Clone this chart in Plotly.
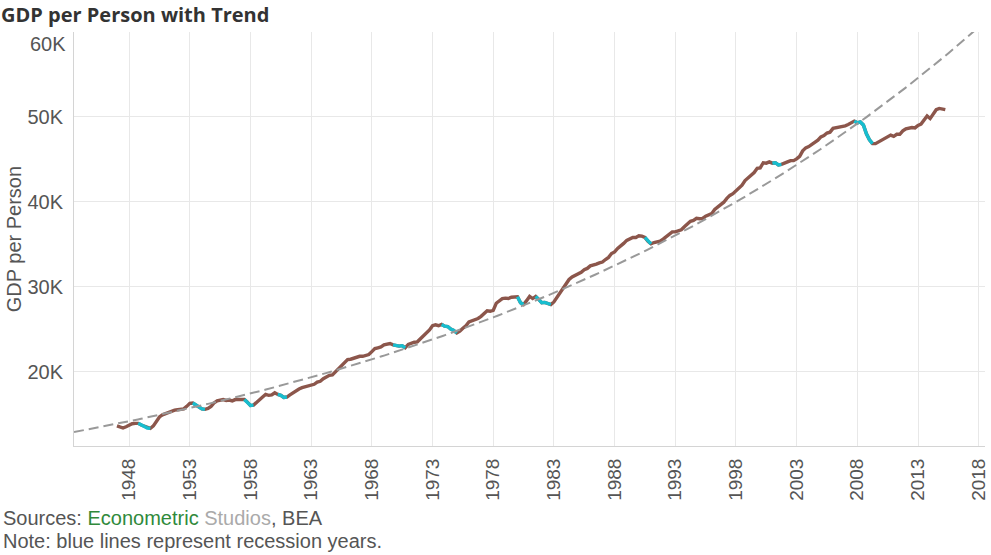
import numpy as np
import plotly.graph_objects as go

# ---------------- data ----------------
years = list(range(1947, 2016))
# quarterly GDP per person (thousands), Q1..Q4 per year
gdp_k = [
    [13.6, 13.45, 13.35, 13.5],    # 1947
    [13.7, 13.85, 13.9, 13.9],     # 1948
    [13.7, 13.55, 13.35, 13.3],    # 1949
    [13.6, 14.1, 14.65, 14.9],     # 1950
    [15.05, 15.25, 15.4, 15.45],   # 1951
    [15.5, 15.55, 15.6, 15.9],     # 1952
    [16.25, 16.3, 16.1, 15.85],    # 1953
    [15.6, 15.55, 15.65, 15.9],    # 1954
    [16.3, 16.55, 16.65, 16.7],    # 1955
    [16.6, 16.65, 16.55, 16.7],    # 1956
    [16.7, 16.65, 16.7, 16.4],     # 1957
    [16.0, 16.05, 16.4, 16.75],    # 1958
    [17.0, 17.3, 17.2, 17.25],     # 1959
    [17.5, 17.3, 17.2, 16.95],     # 1960
    [17.0, 17.25, 17.5, 17.75],    # 1961
    [17.95, 18.1, 18.2, 18.2],     # 1962
    [18.35, 18.5, 18.75, 18.85],   # 1963
    [19.15, 19.35, 19.55, 19.6],   # 1964
    [19.95, 20.3, 20.6, 21.0],     # 1965
    [21.4, 21.45, 21.6, 21.7],     # 1966
    [21.8, 21.8, 21.9, 22.0],      # 1967
    [22.35, 22.7, 22.8, 22.9],     # 1968
    [23.15, 23.2, 23.3, 23.15],    # 1969
    [23.05, 23.0, 23.05, 22.8],    # 1970
    [23.2, 23.35, 23.45, 23.5],    # 1971
    [23.85, 24.3, 24.55, 24.9],    # 1972
    [25.4, 25.5, 25.4, 25.55],     # 1973
    [25.35, 25.3, 25.0, 24.85],    # 1974
    [24.55, 24.75, 25.1, 25.4],    # 1975
    [25.85, 25.95, 26.05, 26.25],  # 1976
    [26.5, 26.8, 27.15, 27.1],     # 1977
    [27.2, 28.05, 28.3, 28.6],     # 1978
    [28.65, 28.6, 28.75, 28.8],    # 1979
    [28.8, 28.1, 27.9, 28.35],     # 1980
    [28.85, 28.6, 28.85, 28.5],    # 1981
    [28.1, 28.15, 28.0, 27.9],     # 1982
    [28.2, 28.7, 29.2, 29.75],     # 1983
    [30.35, 30.85, 31.15, 31.3],   # 1984
    [31.5, 31.7, 32.0, 32.15],     # 1985
    [32.45, 32.5, 32.65, 32.8],    # 1986
    [32.9, 33.2, 33.45, 33.9],     # 1987
    [34.1, 34.5, 34.75, 35.1],     # 1988
    [35.45, 35.65, 35.8, 35.8],    # 1989
    [36.0, 35.95, 35.8, 35.35],    # 1990
    [35.05, 35.2, 35.3, 35.35],    # 1991
    [35.6, 35.85, 36.1, 36.45],    # 1992
    [36.45, 36.55, 36.7, 37.05],   # 1993
    [37.35, 37.7, 37.8, 38.05],    # 1994
    [38.0, 38.05, 38.3, 38.45],    # 1995
    [38.6, 39.1, 39.35, 39.7],     # 1996
    [39.95, 40.4, 40.75, 40.95],   # 1997
    [41.3, 41.55, 41.95, 42.5],    # 1998
    [42.85, 43.1, 43.45, 43.95],   # 1999
    [44.0, 44.6, 44.55, 44.7],     # 2000
    [44.55, 44.6, 44.35, 44.4],    # 2001
    [44.6, 44.7, 44.85, 44.85],    # 2002
    [45.05, 45.35, 46.0, 46.35],   # 2003
    [46.5, 46.75, 47.0, 47.25],    # 2004
    [47.65, 47.8, 48.1, 48.2],     # 2005
    [48.65, 48.7, 48.75, 48.85],   # 2006
    [48.95, 49.1, 49.35, 49.5],    # 2007
    [49.3, 49.4, 49.05, 48.0],     # 2008
    [47.3, 46.85, 46.85, 47.05],   # 2009
    [47.2, 47.5, 47.7, 47.85],     # 2010
    [47.7, 47.95, 47.95, 48.35],   # 2011
    [48.6, 48.7, 48.75, 48.7],     # 2012
    [49.0, 49.15, 49.6, 50.1],     # 2013
    [49.8, 50.3, 50.85, 51.0],     # 2014
    [50.95, 50.85],                # 2015
]
# recessions: (start year, start quarter, end year, end quarter)
recessions = [
    (1948, 4, 1949, 4), (1953, 2, 1954, 2), (1957, 3, 1958, 2),
    (1960, 2, 1961, 1), (1969, 4, 1970, 4), (1973, 4, 1975, 1),
    (1980, 1, 1980, 3), (1981, 3, 1982, 4), (1990, 3, 1991, 1),
    (2001, 1, 2001, 4), (2007, 4, 2009, 2),
]
x_tick_years = list(range(1948, 2019, 5))
y_tick_vals = [20000, 30000, 40000, 50000, 60000]
y_tick_text = ["20K", "30K", "40K", "50K", ""]

# ---------------- build series ----------------
t, v, q_index = [], [], []
for yr, vals in zip(years, gdp_k):
    for qi, val in enumerate(vals):
        t.append(yr + qi / 4.0)
        v.append(val * 1000.0)
        q_index.append((yr, qi + 1))

rec_y = [None] * len(v)
for (sy, sq, ey, eq) in recessions:
    for i, (yr, q) in enumerate(q_index):
        if (sy, sq) <= (yr, q) <= (ey, eq):
            rec_y[i] = v[i]

x_range = [1943.46, 2018.52]
y_range = [11230, 60000]

# exponential trend fitted to the data
b, a = np.polyfit(np.array(t), np.log(np.array(v)), 1)
tt = np.linspace(x_range[0], x_range[1], 300)
trend = np.exp(a + b * tt)

BROWN = "#8c564b"
CYAN = "#17becf"
TXT = "#555555"
FONT = "Arial, 'Liberation Sans', sans-serif"
FS = 20

fig = go.Figure()
fig.add_trace(go.Scatter(x=t, y=v, mode="lines",
                         line=dict(color=BROWN, width=3.4), hoverinfo="skip"))
fig.add_trace(go.Scatter(x=t, y=rec_y, mode="lines", connectgaps=False,
                         line=dict(color=CYAN, width=3.4), hoverinfo="skip"))
fig.add_trace(go.Scatter(x=tt, y=trend, mode="lines",
                         line=dict(color="#999999", width=2, dash="10px,5px"),
                         hoverinfo="skip"))

fig.update_layout(
    width=991, height=555,
    margin=dict(l=74, r=2, t=32, b=109),
    paper_bgcolor="white", plot_bgcolor="white",
    showlegend=False,
    font=dict(family=FONT, color=TXT),
    title=dict(text="<b>GDP per Person with Trend</b>",
               font=dict(family="'Open Sans', sans-serif", size=20, color="#333333"),
               x=0.001, xanchor="left", xref="container",
               y=1 - 15 / 555, yanchor="middle", yref="container"),
    xaxis=dict(range=x_range, tickmode="array", tickvals=x_tick_years,
               ticktext=[str(y) for y in x_tick_years],
               tickangle=-90, tickfont=dict(size=FS - 1, color=TXT),
               ticklabeloverflow="allow",
               showgrid=True, gridcolor="#e8e8e8", gridwidth=1,
               showline=True, linecolor="#d4d4d4", linewidth=1,
               zeroline=False, ticks="", ticklabelstandoff=4),
    yaxis=dict(range=y_range, tickmode="array", tickvals=y_tick_vals,
               ticktext=y_tick_text, tickfont=dict(size=FS, color=TXT),
               showgrid=True, gridcolor="#e8e8e8", gridwidth=1,
               showline=True, linecolor="#d4d4d4", linewidth=1,
               zeroline=False, ticks="", ticklabelstandoff=6),
)

fig.add_annotation(x=0, xref="paper", xanchor="right", xshift=-6,
                   y=60000, yref="y", yshift=-12, yanchor="middle",
                   text="60K", showarrow=False,
                   font=dict(size=FS, color=TXT, family=FONT))
fig.add_annotation(x=(14 - 74) / 915, xref="paper", y=0.5, yref="paper",
                   text="GDP per Person", textangle=-90, showarrow=False,
                   xanchor="center", yanchor="middle",
                   font=dict(size=FS, color=TXT, family=FONT))
fig.add_annotation(x=(1 - 74) / 915, xref="paper", xanchor="left",
                   y=(446 - 518) / 414, yref="paper", yanchor="middle",
                   text="Sources: <span style='color:#2f8a3b'>Econometric</span> "
                        "<span style='color:#aaaaaa'>Studios</span>, BEA",
                   showarrow=False, align="left",
                   font=dict(size=FS, color=TXT, family=FONT))
fig.add_annotation(x=(1 - 74) / 915, xref="paper", xanchor="left",
                   y=(446 - 541) / 414, yref="paper", yanchor="middle",
                   text="Note: blue lines represent recession years.",
                   showarrow=False, align="left",
                   font=dict(size=FS, color=TXT, family=FONT))

fig.write_html("out.html", config={"displayModeBar": False},
               post_script="document.body.style.margin='0';"
                           "document.body.style.overflow='hidden';")
